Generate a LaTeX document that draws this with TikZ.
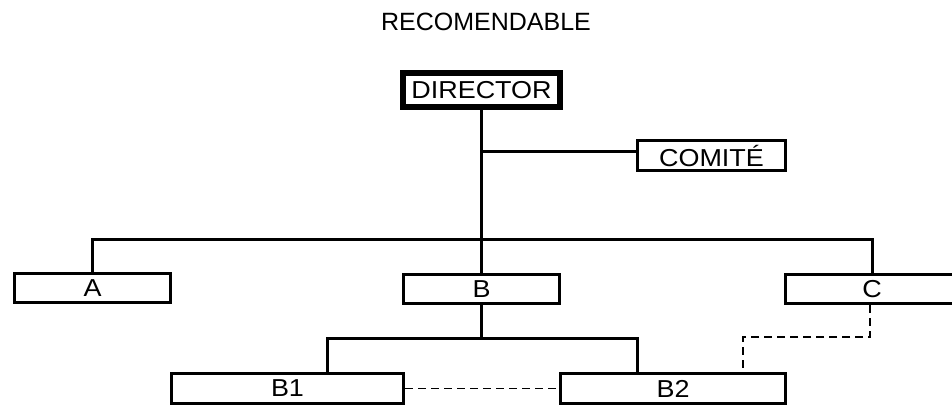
\documentclass[tikz,border=0pt]{standalone}
\usepackage{fontspec}
\setmainfont{Liberation Sans}
\newfontfamily\boxfont[FakeStretch=1.1]{Liberation Sans}
\usetikzlibrary{positioning}
\begin{document}
\begin{tikzpicture}[x=1pt,y=-1pt,
  unit/.style={draw, line width=3pt, inner sep=0pt, minimum height=30pt, font=\boxfont\fontsize{24.5}{25}\selectfont},
  link/.style={line width=3pt},
  dashlink/.style={line width=1.8pt, dash pattern=on 8pt off 5pt}]
\useasboundingbox (0,0) rectangle (952,407);
\node (title) at (486,22) {\fontsize{25}{25}\selectfont RECOMENDABLE};
\node (DIRECTOR) [unit, line width=6pt, minimum width=157pt, minimum height=34pt] at (481.5,90) {DIRECTOR};
\node (COMITE) [unit, minimum width=148pt] at (711.5,155.5) {COMITÉ};
\node (A) [unit, minimum width=156pt, minimum height=29pt] at (92.5,288) {A};
\node (B) [unit, minimum width=156pt, minimum height=29pt] at (481.5,289) {B};
\node (C) [unit, minimum width=173pt, minimum height=29pt] at (872,289) {C};
\node (B1) [unit, minimum width=232pt] at (287.5,388.5) {B1};
\node (B2) [unit, minimum width=225pt] at (673,388.5) {B2};

\coordinate (comjoin) at (481.5,151);
\coordinate (bus) at (481.5,239);
\coordinate (subbus) at (481.5,338);
\coordinate (cbend) at (743,337);

\draw[link] (DIRECTOR.south) -- (B.north);
\draw[link] (comjoin) -- (comjoin -| COMITE.west);
\draw[link] (A.north) |- (bus) -| (C.north);
\draw[link] (B.south) -- (subbus);
\draw[link] ([xshift=40pt]B1.north) |- (subbus) -| ([xshift=-36pt]B2.north);
\draw[dashlink] (B1.east) -- (B2.west);
\draw[dashlink] ([xshift=-2pt]C.south) |- (cbend) -- (cbend |- B2.north);
\end{tikzpicture}
\end{document}
